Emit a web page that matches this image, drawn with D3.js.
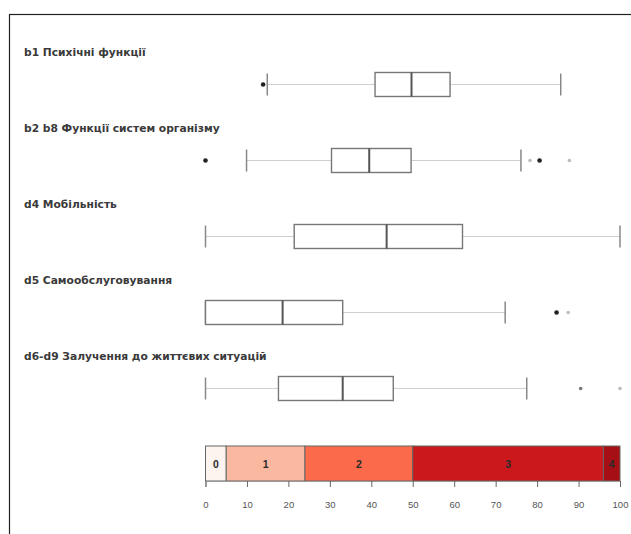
<!DOCTYPE html>
<html>
<head>
<meta charset="utf-8">
<script src="https://cdn.jsdelivr.net/npm/d3@7"></script>
<style>
  body { margin: 0; background: #fff; }
  svg { display: block; font-family: "Liberation Sans", Arial, sans-serif; }
</style>
</head>
<body>
<script>
// domains (ICF), values in percent
const domains = [
  'b1 Психічні функції',
  'b2 b8 Функції систем організму',
  'd4 Мобільність',
  'd5 Самообслуговування',
  'd6-d9 Залучення до життєвих ситуацій'
]
const lowWhisker = [14.9, 9.9, 0, 0, 0]
const q1 = [40.9, 30.4, 21.4, 0, 17.6]
const median = [49.7, 39.5, 43.7, 18.6, 33.1]
const q3 = [59.0, 49.6, 62.0, 33.1, 45.3]
const highWhisker = [85.7, 76.1, 100, 72.3, 77.5]
const outliers = [[13.9], [0, 78.3, 80.6, 87.8], [], [84.7, 87.5], [90.5, 100]]
const outlierCounts = [[3], [3, 1, 3, 1], [], [3, 1], [2, 1]]

// qualifier scale bar
const qualifiers = ['0', '1', '2', '3', '4']
const qualifierBounds = [0, 5, 24, 50, 96, 100]
const qualifierColors = ['#fdf3ef', '#fbb8a0', '#fb6a4a', '#cb181d', '#a50f15']
const xTicks = [0, 10, 20, 30, 40, 50, 60, 70, 80, 90, 100]

const W = 631, H = 534
const svg = d3.select('body').append('svg').attr('width', W).attr('height', H)

// frame
svg.append('rect')
  .attr('x', 9.5).attr('y', 14.5)
  .attr('width', 700).attr('height', 600)
  .attr('fill', 'none').attr('stroke', '#222').attr('stroke-width', 1.2)

const x = d3.scaleLinear().domain([0, 100]).range([205.5, 620])
const y = d3.scalePoint().domain(domains).range([84.5, 388.5])
const boxH = 24

const rows = svg.selectAll('g.row').data(domains).enter().append('g')
  .attr('class', 'row')
  .attr('transform', d => 'translate(0,' + y(d) + ')')

rows.append('text')
  .attr('x', 24).attr('y', -29)
  .attr('font-family', '"DejaVu Sans", Verdana, sans-serif')
  .attr('font-size', 10.7).attr('font-weight', 'bold').attr('fill', '#3a3a3a')
  .text(d => d)

// whiskers
rows.append('line')
  .attr('x1', (d, i) => x(lowWhisker[i])).attr('x2', (d, i) => x(q1[i]))
  .attr('stroke', '#d0d0d0').attr('stroke-width', 1)
rows.append('line')
  .attr('x1', (d, i) => x(q3[i])).attr('x2', (d, i) => x(highWhisker[i]))
  .attr('stroke', '#d0d0d0').attr('stroke-width', 1)

// caps
rows.append('line')
  .attr('x1', (d, i) => x(lowWhisker[i])).attr('x2', (d, i) => x(lowWhisker[i]))
  .attr('y1', -boxH / 2 + 1).attr('y2', boxH / 2 - 1)
  .attr('stroke', '#888').attr('stroke-width', 1.5)
rows.append('line')
  .attr('x1', (d, i) => x(highWhisker[i])).attr('x2', (d, i) => x(highWhisker[i]))
  .attr('y1', -boxH / 2 + 1).attr('y2', boxH / 2 - 1)
  .attr('stroke', '#888').attr('stroke-width', 1.5)

// boxes
rows.append('rect')
  .attr('x', (d, i) => x(q1[i]))
  .attr('width', (d, i) => x(q3[i]) - x(q1[i]))
  .attr('y', -boxH / 2).attr('height', boxH)
  .attr('fill', '#fff').attr('stroke', '#777').attr('stroke-width', 1.4)
rows.append('line')
  .attr('x1', (d, i) => x(median[i])).attr('x2', (d, i) => x(median[i]))
  .attr('y1', -boxH / 2).attr('y2', boxH / 2)
  .attr('stroke', '#555').attr('stroke-width', 2)

// outliers
rows.each(function (d, i) {
  d3.select(this).selectAll('circle')
    .data(outliers[i].map((v, j) => ({ v: v, n: outlierCounts[i][j] })))
    .enter().append('circle')
    .attr('cx', o => x(o.v)).attr('cy', 0)
    .attr('r', o => o.n >= 3 ? 2.3 : 1.8)
    .attr('fill', o => o.n >= 3 ? '#222' : (o.n == 2 ? '#777' : '#bbb'))
})

// qualifier bar
const barTop = 446, barBottom = 481
const seg = svg.selectAll('g.seg').data(qualifiers).enter().append('g').attr('class', 'seg')
seg.append('rect')
  .attr('x', (d, i) => x(qualifierBounds[i]))
  .attr('width', (d, i) => x(qualifierBounds[i + 1]) - x(qualifierBounds[i]))
  .attr('y', barTop).attr('height', barBottom - barTop)
  .attr('fill', (d, i) => qualifierColors[i])
  .attr('stroke', '#666').attr('stroke-width', 1)
seg.append('text')
  .attr('x', (d, i) => (x(qualifierBounds[i]) + x(qualifierBounds[i + 1])) / 2)
  .attr('y', (barTop + barBottom) / 2 + 4)
  .attr('text-anchor', 'middle').attr('font-size', 10.5).attr('font-weight', 'bold')
  .attr('fill', '#2a2a2a')
  .text(d => d)

// axis
const axis = svg.append('g')
  .attr('transform', 'translate(0,' + barBottom + ')')
  .call(d3.axisBottom(x).tickValues(xTicks).tickSize(6).tickPadding(14).tickSizeOuter(6))
axis.select('.domain').attr('stroke', '#999')
axis.selectAll('.tick line').attr('stroke', '#666')
axis.selectAll('.tick text').attr('font-size', 9.5).attr('fill', '#555')
  .attr('font-family', '"Liberation Sans", Arial, sans-serif')
</script>
</body>
</html>
